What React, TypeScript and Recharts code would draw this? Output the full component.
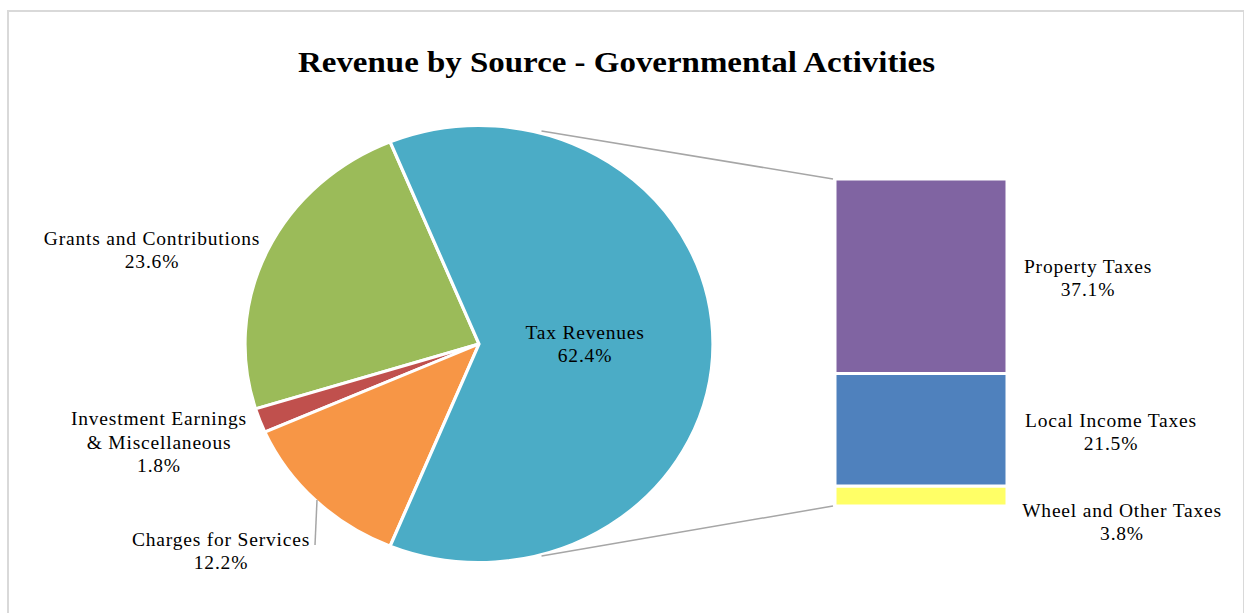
import React from 'react';
import { PieChart, Pie, Cell, BarChart, Bar, XAxis, YAxis } from 'recharts';

// ---- data ----
const titleText = 'Revenue by Source - Governmental Activities';

const pieCategories = ['Grants and Contributions', 'Investment Earnings & Miscellaneous', 'Charges for Services', 'Tax Revenues'];
const pieValues = [23.6, 1.8, 12.2, 62.4];
const pieColors = ['#9BBB59', '#C0504D', '#F79646', '#4BACC6'];
const pieLabelLines = [
  ['Grants and Contributions', '23.6%'],
  ['Investment Earnings', '& Miscellaneous', '1.8%'],
  ['Charges for Services', '12.2%'],
  ['Tax Revenues', '62.4%'],
];

const barCategories = ['Wheel and Other Taxes', 'Local Income Taxes', 'Property Taxes'];
const barValues = [3.8, 21.5, 37.1];
const barColors = ['#FFFF66', '#4F81BD', '#8064A2'];
const barLabelLines = [
  ['Wheel and Other Taxes', '3.8%'],
  ['Local Income Taxes', '21.5%'],
  ['Property Taxes', '37.1%'],
];

// ---- layout ----
const FONT = '"Liberation Serif", "Times New Roman", serif';
const PIE_CX = 479;
const PIE_CY = 343.5;
const PIE_RY = 218.5;
const PIE_RX = 234;
const PIE_BOX = 440;
const BAR_X = 835;
const BAR_Y = 179;
const BAR_W = 172;
const BAR_H = 327;
const CONNECT_ANGLE = 74.5;
const TITLE_X = 616.5;
const TITLE_Y = 72;
const TITLE_W = 637;

const pieLabelPos = [
  { x: 152, y: 245 },
  { x: 159, y: 425 },
  { x: 221, y: 546 },
  { x: 585, y: 339 },
];
const barLabelPos = [
  { x: 1122, y: 517 },
  { x: 1111, y: 427 },
  { x: 1088, y: 273 },
];

const taxValue = pieValues[pieCategories.indexOf('Tax Revenues')];
const pieStart = (taxValue / 100) * 180;

const pieData = pieCategories.map((name, i) => ({ name, value: pieValues[i] }));
const barRow: Record<string, number | string> = { name: 'Tax Revenues' };
barCategories.forEach((c, i) => {
  barRow[c] = barValues[i];
});
const barData = [barRow];
const barTotal = barValues.reduce((a, b) => a + b, 0);

const LabelBlock = ({ x, y, lines, lh = 22.5 }: { x: number; y: number; lines: string[]; lh?: number }) => (
  <text x={x} y={y} textAnchor="middle" fontFamily={FONT} fontSize={19.5} fill="#000" style={{ whiteSpace: 'pre', letterSpacing: '0.8px' }}>
    {lines.map((l, i) => (
      <tspan key={i} x={x} y={y + i * lh}>
        {l}
      </tspan>
    ))}
  </text>
);

export default function App() {
  const rad = (CONNECT_ANGLE * Math.PI) / 180;
  const topStart = { x: PIE_CX + PIE_RX * Math.cos(rad), y: PIE_CY - PIE_RY * Math.sin(rad) - 2 };
  const botStart = { x: PIE_CX + PIE_RX * Math.cos(rad), y: PIE_CY + PIE_RY * Math.sin(rad) + 2 };
  return (
    <div style={{ position: 'absolute', left: 0, top: 0, width: 1244, height: 613, overflow: 'hidden', background: '#fff' }}>
      <div
        style={{
          position: 'absolute',
          left: 7,
          top: 10,
          width: 1234,
          height: 640,
          border: '2px solid #D9D9D9',
        }}
      />
      <div
        style={{
          position: 'absolute',
          left: PIE_CX - PIE_BOX / 2,
          top: PIE_CY - PIE_BOX / 2,
          width: PIE_BOX,
          height: PIE_BOX,
          transform: `scaleX(${PIE_RX / PIE_RY})`,
          transformOrigin: `${PIE_BOX / 2}px ${PIE_BOX / 2}px`,
        }}
      >
        <PieChart width={PIE_BOX} height={PIE_BOX} margin={{ top: 0, right: 0, bottom: 0, left: 0 }}>
          <Pie
            data={pieData}
            dataKey="value"
            nameKey="name"
            cx={PIE_BOX / 2}
            cy={PIE_BOX / 2}
            outerRadius={PIE_RY}
            startAngle={pieStart}
            endAngle={pieStart + 360}
            stroke="#FFFFFF"
            strokeWidth={3}
            isAnimationActive={false}
          >
            {pieData.map((d, i) => (
              <Cell key={d.name} fill={pieColors[i]} />
            ))}
          </Pie>
        </PieChart>
      </div>
      <div style={{ position: 'absolute', left: BAR_X, top: BAR_Y }}>
        <BarChart width={BAR_W} height={BAR_H} data={barData} margin={{ top: 0, right: 0, bottom: 0, left: 0 }} barCategoryGap={0}>
          <XAxis dataKey="name" hide />
          <YAxis hide domain={[0, barTotal]} />
          {barCategories.map((c, i) => (
            <Bar key={c} dataKey={c} stackId="a" fill={barColors[i]} stroke="#FFFFFF" strokeWidth={3} isAnimationActive={false} />
          ))}
        </BarChart>
      </div>
      <svg width={1244} height={613} style={{ position: 'absolute', left: 0, top: 0, pointerEvents: 'none' }}>
        <text
          x={TITLE_X}
          y={TITLE_Y}
          textAnchor="middle"
          fontFamily={FONT}
          fontWeight="bold"
          fontSize={29}
          fill="#000"
          textLength={TITLE_W}
          lengthAdjust="spacingAndGlyphs"
        >
          {titleText}
        </text>
        <line x1={topStart.x} y1={topStart.y} x2={BAR_X - 2} y2={BAR_Y} stroke="#A6A6A6" strokeWidth={1.5} />
        <line x1={botStart.x} y1={botStart.y} x2={BAR_X - 2} y2={BAR_Y + BAR_H} stroke="#A6A6A6" strokeWidth={1.5} />
        <line x1={317} y1={500} x2={315} y2={545} stroke="#A6A6A6" strokeWidth={1.5} />
        {pieCategories.map((c, i) => (
          <LabelBlock key={c} x={pieLabelPos[i].x} y={pieLabelPos[i].y} lines={pieLabelLines[i]} lh={i === 1 ? 23.5 : 22.5} />
        ))}
        {barCategories.map((c, i) => (
          <LabelBlock key={c} x={barLabelPos[i].x} y={barLabelPos[i].y} lines={barLabelLines[i]} />
        ))}
      </svg>
    </div>
  );
}
